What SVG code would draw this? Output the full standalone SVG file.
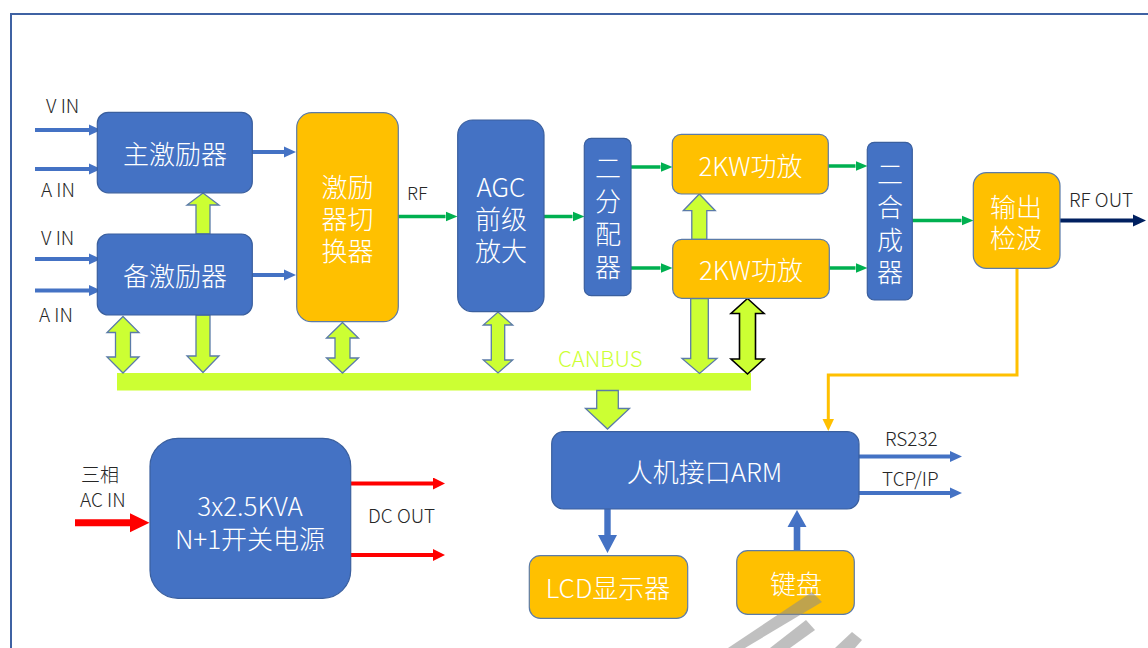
<svg xmlns="http://www.w3.org/2000/svg" width="1148" height="648" viewBox="0 0 1148 648">
<style>
.blue{fill:#4472C4;stroke:#3A5F9E;stroke-width:1.2}
.orange{fill:#FFC000;stroke:#5B7BA8;stroke-width:1.2}
.bt{font-family:"Noto Sans CJK SC","Noto Sans",sans-serif;font-size:26px;font-weight:300;fill:#FFFFFF;text-anchor:middle;dominant-baseline:central}
.lbl{font-family:"Noto Sans CJK SC","Noto Sans",sans-serif;font-size:19px;font-weight:300;fill:#262626}
.can{font-family:"Noto Sans CJK SC","Noto Sans",sans-serif;font-size:22px;font-weight:300;fill:#CCFF33}
.blk{fill:#CCFF33;stroke:#5B7BA8;stroke-width:1.3;stroke-linejoin:miter}
.blkb{fill:#CCFF33;stroke:#000000;stroke-width:1.6}
.lb{stroke:#4472C4;stroke-width:4;fill:none}
.lg{stroke:#00B050;stroke-width:3.5;fill:none}
.lr{stroke:#FF0000;stroke-width:4;fill:none}
.ln{stroke:#002060;stroke-width:4;fill:none}
.lo{stroke:#FFC000;stroke-width:3;fill:none}
</style>
<defs>
<marker id="mb" markerUnits="userSpaceOnUse" markerWidth="12" markerHeight="12" viewBox="0 0 12 12" refX="0" refY="6" orient="auto"><path d="M0,0.5 L12,6 L0,11.5 z" fill="#4472C4"/></marker>
<marker id="mg" markerUnits="userSpaceOnUse" markerWidth="12" markerHeight="12" viewBox="0 0 12 12" refX="0" refY="6" orient="auto"><path d="M0,1 L12,6 L0,11 z" fill="#00B050"/></marker>
<marker id="mr" markerUnits="userSpaceOnUse" markerWidth="12" markerHeight="12" viewBox="0 0 12 12" refX="0" refY="6" orient="auto"><path d="M0,0 L12,6 L0,12 z" fill="#FF0000"/></marker>
<marker id="mn" markerUnits="userSpaceOnUse" markerWidth="13" markerHeight="13" viewBox="0 0 13 13" refX="0" refY="6.5" orient="auto"><path d="M0,0.5 L13,6.5 L0,12.5 z" fill="#002060"/></marker>
</defs>
<rect x="0" y="0" width="1148" height="648" fill="#FFFFFF"/>
<rect x="11" y="14" width="1200" height="700" fill="none" stroke="#3F62A3" stroke-width="2"/>

<g id="connectors">
  <rect x="117" y="373" width="634" height="17.5" fill="#CCFF33"/>
  <line class="lb" x1="35" y1="130" x2="89" y2="130" marker-end="url(#mb)"/>
  <line class="lb" x1="35" y1="169" x2="89" y2="169" marker-end="url(#mb)"/>
  <line class="lb" x1="35" y1="259" x2="89" y2="259" marker-end="url(#mb)"/>
  <line class="lb" x1="35" y1="290.5" x2="89" y2="290.5" marker-end="url(#mb)"/>
  <line class="lb" x1="252" y1="152" x2="284" y2="152" marker-end="url(#mb)"/>
  <line class="lb" x1="252" y1="275" x2="284" y2="275" marker-end="url(#mb)"/>
  <line class="lg" x1="398" y1="216.5" x2="445.5" y2="216.5" marker-end="url(#mg)"/>
  <line class="lg" x1="544" y1="216.5" x2="572.5" y2="216.5" marker-end="url(#mg)"/>
  <line class="lg" x1="631" y1="167" x2="660.5" y2="167" marker-end="url(#mg)"/>
  <line class="lg" x1="631" y1="268" x2="660.5" y2="268" marker-end="url(#mg)"/>
  <line class="lg" x1="828" y1="166" x2="855.5" y2="166" marker-end="url(#mg)"/>
  <line class="lg" x1="829" y1="268" x2="855.5" y2="268" marker-end="url(#mg)"/>
  <line class="lg" x1="912" y1="220.5" x2="961.5" y2="220.5" marker-end="url(#mg)"/>
  <line class="ln" x1="1060" y1="220.5" x2="1133" y2="220.5" marker-end="url(#mn)"/>
  <polyline class="lo" points="1017,268 1017,375 828.3,375 828.3,420"/>
  <polygon points="822.5,419 834,419 828.3,431" fill="#FFC000"/>
  <polygon class="blk" points="203,193 219,205 210,205 210,234 196,234 196,205 187,205"/>
  <polygon class="blk" points="123,316.5 139,332.5 130.5,332.5 130.5,357 139,357 123,373 107,357 115.5,357 115.5,332.5 107,332.5"/>
  <polygon class="blk" points="196,315 210,315 210,356 219,356 203,372.5 187,356 196,356"/>
  <polygon class="blk" points="342.5,322.5 358.5,338 350,338 350,358 358.5,358 342.5,373 326.5,358 335,358 335,338 326.5,338"/>
  <polygon class="blk" points="498,312 512.7,325 504.7,325 504.7,360 512.7,360 498,373 483.3,360 491.3,360 491.3,325 483.3,325"/>
  <polygon class="blk" points="699.3,194 715.3,210.7 706.8,210.7 706.8,239.5 691.8,239.5 691.8,210.7 683.3,210.7"/>
  <polygon class="blk" points="690.7,298.5 708.3,298.5 708.3,358.5 717,358.5 699.5,373.5 682,358.5 690.7,358.5"/>
  <polygon class="blkb" points="747.5,298.5 764,313.5 755.5,313.5 755.5,359 764,359 747.5,374 731,359 739.5,359 739.5,313.5 731,313.5"/>
  <polygon class="blk" points="596.7,390.5 618.3,390.5 618.3,408.5 629.5,408.5 607.5,429 585.5,408.5 596.7,408.5"/>
  <line class="lb" x1="859" y1="456.5" x2="950" y2="456.5" marker-end="url(#mb)"/>
  <line class="lb" x1="859" y1="493" x2="950" y2="493" marker-end="url(#mb)"/>
  <polygon points="604.3,509 610.7,509 610.7,535 617,535 607.5,553 598,535 604.3,535" fill="#4472C4"/>
  <polygon points="797,510 806.5,527 800.3,527 800.3,550.5 793.7,550.5 793.7,527 787.5,527" fill="#4472C4"/>
  <polygon points="75,519.2 130,519.2 130,513.2 149.5,522.7 130,532.2 130,526.2 75,526.2" fill="#FF0000"/>
  <line class="lr" x1="351" y1="483.5" x2="433" y2="483.5" marker-end="url(#mr)"/>
  <line class="lr" x1="351" y1="555" x2="433" y2="555" marker-end="url(#mr)"/>
</g>

<g id="labels">
  <text class="lbl" x="46" y="113">V IN</text>
  <text class="lbl" x="41" y="197">A IN</text>
  <text class="lbl" x="41" y="245">V IN</text>
  <text class="lbl" x="39" y="322">A IN</text>
  <text class="lbl" x="407" y="200" style="font-size:18px">RF</text>
  <text class="lbl" x="1069" y="207">RF OUT</text>
  <text class="can" x="558" y="367">CANBUS</text>
  <text class="lbl" x="81" y="482"><tspan x="81" y="482">三相</tspan><tspan x="80" y="507">AC IN</tspan></text>
  <text class="lbl" x="368" y="523">DC OUT</text>
  <text class="lbl" x="885" y="446">RS232</text>
  <text class="lbl" x="882" y="486">TCP/IP</text>
</g>

<g id="n-main"><rect class="blue" x="97.3" y="112.3" width="155" height="80.5" rx="11"/><text class="bt" x="175" y="152">主激励器</text></g>
<g id="n-backup"><rect class="blue" x="97.3" y="234" width="155" height="81" rx="11"/><text class="bt" x="175" y="274">备激励器</text></g>
<g id="n-switch"><rect class="orange" x="296.7" y="112.7" width="101.6" height="209" rx="15"/><text class="bt" x="347.5" y="185"><tspan x="347.5" y="185">激励</tspan><tspan x="347.5" y="217">器切</tspan><tspan x="347.5" y="249">换器</tspan></text></g>
<g id="n-agc"><rect class="blue" x="457.7" y="120" width="86.3" height="191.7" rx="15"/><text class="bt" x="501" y="185"><tspan x="501" y="185">AGC</tspan><tspan x="501" y="217">前级</tspan><tspan x="501" y="249">放大</tspan></text></g>
<g id="n-split"><rect class="blue" x="584.3" y="138.3" width="46.7" height="157.4" rx="7"/><text class="bt" x="608" y="166"><tspan x="608" y="166">二</tspan><tspan x="608" y="199">分</tspan><tspan x="608" y="232">配</tspan><tspan x="608" y="265">器</tspan></text></g>
<g id="n-pa1"><rect class="orange" x="672.3" y="134.3" width="156" height="59.7" rx="9"/><text class="bt" x="750.5" y="164">2KW功放</text></g>
<g id="n-pa2"><rect class="orange" x="672.7" y="239.3" width="156.6" height="59" rx="9"/><text class="bt" x="751" y="268">2KW功放</text></g>
<g id="n-comb"><rect class="blue" x="867.3" y="142.3" width="45" height="157.7" rx="7"/><text class="bt" x="890" y="172"><tspan x="890" y="172">二</tspan><tspan x="890" y="205">合</tspan><tspan x="890" y="238">成</tspan><tspan x="890" y="270">器</tspan></text></g>
<g id="n-det"><rect class="orange" x="973.3" y="172.7" width="86.7" height="95.6" rx="13"/><text class="bt" x="1016" y="205"><tspan x="1016" y="205">输出</tspan><tspan x="1016" y="236">检波</tspan></text></g>
<g id="n-arm"><rect class="blue" x="551.7" y="431.7" width="307.3" height="77.3" rx="12"/><text class="bt" x="704.5" y="470">人机接口ARM</text></g>
<g id="n-lcd"><rect class="orange" x="529.3" y="555.7" width="158.4" height="62.6" rx="11"/><text class="bt" x="608" y="586">LCD显示器</text></g>
<g id="n-kbd"><rect class="orange" x="736.7" y="550.7" width="117.6" height="63.6" rx="11"/><text class="bt" x="796" y="582">键盘</text></g>
<g id="n-psu"><rect class="blue" x="150" y="438.3" width="200.7" height="160" rx="28"/><text class="bt" x="250" y="504"><tspan x="250" y="504">3x2.5KVA</tspan><tspan x="250" y="537">N+1开关电源</tspan></text></g>

<g id="watermark" fill="#8C8C8C" opacity="0.55">
  <polygon points="728,648 812,592 822,602 745,648"/>
  <polygon points="770,648 806,620 815,630 790,648"/>
  <polygon points="835,648 852,632 862,640 855,648"/>
</g>
</svg>
